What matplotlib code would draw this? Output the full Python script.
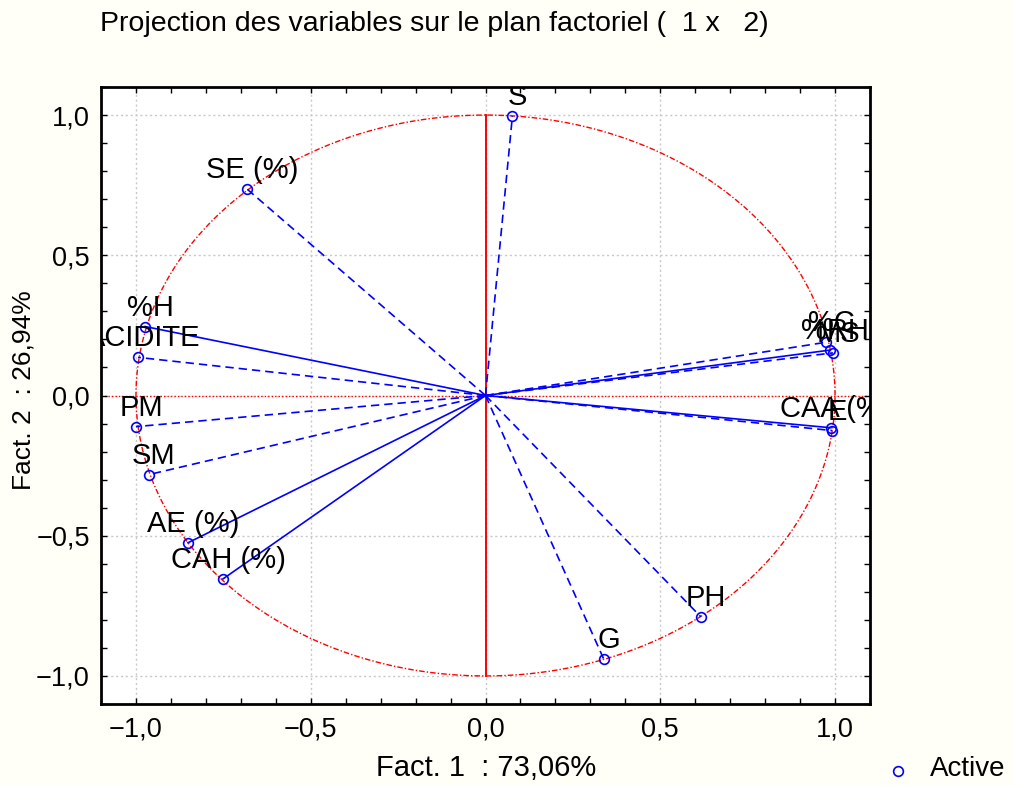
import numpy as np
import matplotlib
matplotlib.use("Agg")
import matplotlib.pyplot as plt
from matplotlib.ticker import MultipleLocator, FuncFormatter

plt.rcParams['font.family'] = ['Liberation Sans', 'DejaVu Sans']

# ---- data ----
variables = ["S", "SE (%)", "%H", "ACIDITE", "PM", "SM", "AE (%)", "CAH (%)",
             "G", "PH", "%C", "%RH", "MS", "CAA (%)", "E"]
fact1 = [0.077, -0.682, -0.974, -0.994, -1.000, -0.963, -0.851, -0.751,
         0.338, 0.616, 0.975, 0.986, 0.994, 0.988, 0.992]
fact2 = [0.997, 0.736, 0.246, 0.136, -0.111, -0.282, -0.525, -0.654,
         -0.939, -0.789, 0.190, 0.162, 0.152, -0.115, -0.125]
solid_vars = {"%H", "AE (%)", "CAH (%)", "%RH", "CAA (%)"}

title = "Projection des variables sur le plan factoriel (  1 x   2)"
xlabel = "Fact. 1  : 73,06%"
ylabel = "Fact. 2  : 26,94%"
legend_label = "Active"

W, H = 1013, 786
fig = plt.figure(figsize=(W / 100, H / 100), dpi=100)
fig.patch.set_facecolor('#fffef7')

ax = fig.add_axes([101 / W, (H - 704) / H, 769 / W, 617 / H])
ax.set_facecolor('white')
ax.set_xlim(-1.1, 1.1)
ax.set_ylim(-1.1, 1.1)

blue = '#0000ff'
red = '#ff0000'

# grid
for v in [-1.0, -0.5, 0.0, 0.5, 1.0]:
    ax.axvline(v, color='#c8c8c8', lw=1.0, ls=(0, (1.5, 2)), zorder=0)
    ax.axhline(v, color='#c8c8c8', lw=1.0, ls=(0, (1.5, 2)), zorder=0)

# unit circle
t = np.linspace(0, 2 * np.pi, 721)
ax.plot(np.cos(t), np.sin(t), color=red, lw=1.0, ls=(0, (4, 1.5, 1, 1.5)), zorder=1)
# axes through origin
ax.plot([0, 0], [-1, 1], color=red, lw=1.4, zorder=1)
ax.axhline(0, color=red, lw=1.0, ls=(0, (1, 1.5)), zorder=1)

# vectors
for name, x, y in zip(variables, fact1, fact2):
    ls = '-' if name in solid_vars else (0, (5, 3))
    ax.plot([0, x], [0, y], color=blue, lw=1.2, ls=ls, zorder=2)
    ax.plot([x], [y], marker='o', ms=7, mfc='none', mec=blue, mew=1.2,
            ls='none', zorder=3)
    ax.annotate(name, (x, y), xytext=(5, 5), textcoords='offset pixels',
                ha='center', va='bottom', fontsize=21, color='black',
                clip_on=True, annotation_clip=False, zorder=4)

# ticks
fmt = FuncFormatter(lambda v, p: ('%.1f' % v).replace('.', ',').replace('-', '\u2212'))
for axis in (ax.xaxis, ax.yaxis):
    axis.set_major_locator(MultipleLocator(0.5))
    axis.set_minor_locator(MultipleLocator(0.1))
    axis.set_major_formatter(fmt)
ax.tick_params(which='both', direction='in', top=True, right=True,
               length=4, width=1.0, labelsize=19.5, color='black')
ax.tick_params(axis='x', pad=9)
ax.tick_params(axis='y', pad=8)
for s in ax.spines.values():
    s.set_linewidth(2.0)

# texts
fig.text(100 / W, 1 - 24 / H, title, ha='left', va='center', fontsize=20.5)
fig.text(486 / W, 1 - 768 / H, xlabel, ha='center', va='center', fontsize=21)
fig.text(24 / W, 1 - 390 / H, ylabel, ha='center', va='center', fontsize=19,
         rotation=90)
# legend
fig.lines.append(matplotlib.lines.Line2D([898 / W], [1 - 771 / H], marker='o',
                 ms=7, mfc='none', mec=blue, mew=1.2, ls='none',
                 transform=fig.transFigure))
fig.text(930 / W, 1 - 769 / H, legend_label, ha='left', va='center', fontsize=20)

fig.savefig('out.png', dpi=100, facecolor=fig.get_facecolor())
